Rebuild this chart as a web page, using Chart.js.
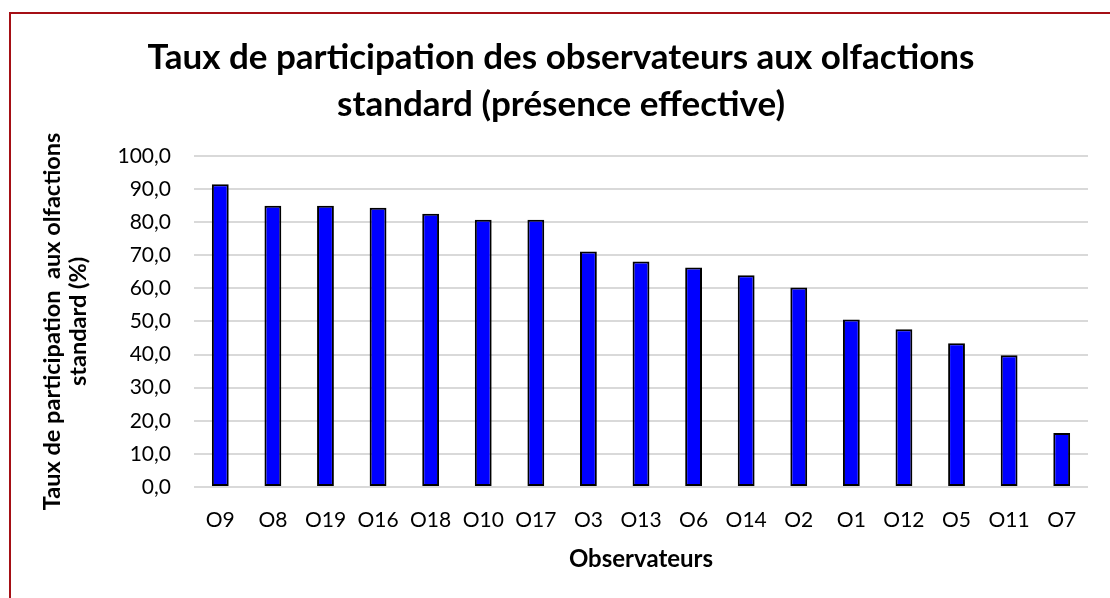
<!DOCTYPE html>
<html>
<head>
<meta charset="utf-8">
<script src="https://cdn.jsdelivr.net/npm/chart.js@4"></script>
<style>
  body { margin: 0; background: #fff; overflow: hidden; }
  #frame { position: absolute; left: 9px; top: 12px; width: 1120px; height: 610px; border: 2px solid #a50f15; box-sizing: border-box; }
  #wrap { position: absolute; left: 0; top: 0; width: 1110px; height: 598px; }
</style>
</head>
<body>
<div id="frame"></div>
<div id="wrap"><canvas id="myChart"></canvas></div>
<script>
// observers, sorted by participation rate
const observers = ['O9', 'O8', 'O19', 'O16', 'O18', 'O10', 'O17', 'O3', 'O13', 'O6', 'O14', 'O2', 'O1', 'O12', 'O5', 'O11', 'O7']
// participation rate (%)
const rates = [91.4, 84.9, 84.9, 84.3, 82.5, 80.7, 80.7, 71.1, 68.1, 66.3, 63.9, 60.2, 50.6, 47.6, 43.4, 39.8, 16.3]
// y axis range
const yMin = 0
const yMax = 100
const yStep = 10

const titleLines = ['Taux de participation des observateurs aux olfactions', 'standard (présence effective)']
const yTitleLines = ['Taux de participation  aux olfactions', 'standard (%)']
const xTitle = 'Observateurs'

const ctx = document.getElementById('myChart')
const fam = 'Lato, "Open Sans", sans-serif'

new Chart(ctx, {
  type: 'bar',
  data: {
    labels: observers,
    datasets: [{
      label: 'Taux',
      data: rates,
      backgroundColor: '#0000ff',
      borderColor: '#000000',
      borderWidth: 2,
      borderSkipped: false,
      barPercentage: 0.32,
      categoryPercentage: 1
    }]
  },
  options: {
    responsive: true,
    maintainAspectRatio: false,
    animation: false,
    devicePixelRatio: 1,
    // left/right padding so the title centre sits where it does in the picture
    layout: { padding: { left: 34, right: 22, top: 0, bottom: 0 } },
    plugins: {
      legend: { display: false },
      tooltip: { enabled: false },
      title: {
        display: true,
        text: titleLines,
        color: '#000',
        font: { family: fam, size: 35, weight: 'bold', lineHeight: 1.34 },
        padding: { top: 34, bottom: 28 }
      }
    },
    scales: {
      x: {
        grid: { display: false, drawTicks: false },
        border: { display: false },
        ticks: { color: '#000', font: { family: fam, size: 21 }, padding: 21, maxRotation: 0, autoSkip: false },
        title: {
          display: true,
          text: xTitle,
          color: '#000',
          font: { family: fam, size: 24, weight: 'bold', lineHeight: 1.2 },
          padding: { top: 0, bottom: 24 }
        },
        afterFit: function(scale) { scale.height = 111 }
      },
      y: {
        min: yMin,
        max: yMax,
        grid: { color: '#d9d9d9', lineWidth: 2, drawTicks: false },
        border: { display: false },
        ticks: {
          stepSize: yStep,
          color: '#000',
          font: { family: fam, size: 21 },
          padding: 23,
          callback: function(v) { return v.toFixed(1).replace('.', ',') }
        },
        title: {
          display: true,
          text: yTitleLines,
          color: '#000',
          font: { family: fam, size: 23.5, weight: 'bold', lineHeight: 1.12 },
          padding: { top: 5, bottom: 0 }
        },
        afterFit: function(scale) { scale.width = 160 }
      }
    }
  }
})
</script>
</body>
</html>
